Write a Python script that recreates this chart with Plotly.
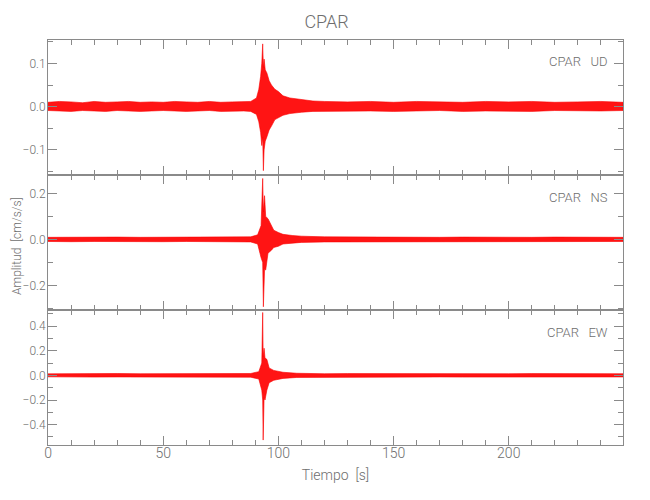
import plotly.graph_objects as go
from plotly.subplots import make_subplots

# ---- data (envelopes) ----
station = "CPAR"
components = ["UD", "NS", "EW"]

t_ud = [0, 5, 10, 15, 20, 25, 30, 35, 40, 45, 50, 55, 60, 65, 70, 75, 80, 85, 88, 90.5, 91.5, 92.3, 92.8, 93.2,
        93.5, 93.8, 94.3, 95, 96, 97, 98.5, 100, 102, 105, 110, 115, 120, 130, 140, 150, 160, 170, 180, 190, 200,
        210, 220, 230, 240, 249.6]
up_ud = [0.010, 0.012, 0.011, 0.009, 0.012, 0.010, 0.011, 0.012, 0.010, 0.011, 0.010, 0.012, 0.011, 0.010, 0.012,
         0.010, 0.011, 0.012, 0.012, 0.02, 0.04, 0.07, 0.1, 0.145, 0.09, 0.11, 0.085, 0.078, 0.06, 0.05, 0.04,
         0.035, 0.025, 0.02, 0.016, 0.013, 0.012, 0.011, 0.012, 0.010, 0.012, 0.011, 0.010, 0.012, 0.011, 0.012,
         0.010, 0.011, 0.012, 0.010]
lo_ud = [-0.009, -0.010, -0.011, -0.009, -0.010, -0.011, -0.009, -0.010, -0.011, -0.010, -0.009, -0.010, -0.011,
         -0.010, -0.009, -0.011, -0.010, -0.010, -0.011, -0.018, -0.035, -0.06, -0.09, -0.07, -0.148, -0.1, -0.08,
         -0.07, -0.054, -0.045, -0.03, -0.026, -0.02, -0.016, -0.013, -0.011, -0.011, -0.010, -0.010, -0.011,
         -0.010, -0.009, -0.011, -0.010, -0.010, -0.011, -0.009, -0.010, -0.010, -0.009]

t_ns = [0, 10, 20, 30, 40, 50, 60, 70, 80, 88, 91, 92.5, 93.2, 93.5, 94, 94.5, 95.5, 97, 98, 100, 102, 106, 110,
        120, 130, 140, 150, 160, 170, 180, 190, 200, 210, 220, 230, 240, 249.6]
up_ns = [0.009, 0.010, 0.009, 0.010, 0.009, 0.010, 0.009, 0.010, 0.010, 0.011, 0.02, 0.06, 0.265, 0.12, 0.19, 0.1,
         0.09, 0.06, 0.04, 0.03, 0.022, 0.017, 0.014, 0.011, 0.010, 0.010, 0.009, 0.010, 0.009, 0.010, 0.009, 0.010,
         0.009, 0.010, 0.009, 0.010, 0.009]
lo_ns = [-0.009, -0.010, -0.009, -0.010, -0.009, -0.010, -0.009, -0.010, -0.010, -0.011, -0.02, -0.08, -0.1,
         -0.293, -0.13, -0.133, -0.06, -0.047, -0.035, -0.03, -0.02, -0.016, -0.013, -0.011, -0.010, -0.009,
         -0.010, -0.009, -0.010, -0.009, -0.010, -0.009, -0.010, -0.009, -0.010, -0.009, -0.009]

t_ew = [0, 10, 20, 30, 40, 50, 60, 70, 80, 88, 91.5, 92.8, 93.2, 93.4, 93.8, 94.2, 95, 96, 98, 102, 108, 115, 120,
        130, 140, 150, 160, 170, 180, 190, 200, 210, 220, 230, 240, 249.6]
up_ew = [0.012, 0.014, 0.013, 0.015, 0.013, 0.014, 0.015, 0.016, 0.014, 0.015, 0.03, 0.1, 0.51, 0.15, 0.22, 0.14,
         0.13, 0.06, 0.04, 0.025, 0.017, 0.014, 0.013, 0.014, 0.013, 0.014, 0.013, 0.014, 0.013, 0.014, 0.013,
         0.014, 0.013, 0.014, 0.013, 0.013]
lo_ew = [-0.012, -0.013, -0.014, -0.013, -0.014, -0.013, -0.014, -0.015, -0.014, -0.015, -0.03, -0.12, -0.2,
         -0.525, -0.18, -0.2, -0.12, -0.06, -0.04, -0.025, -0.017, -0.014, -0.013, -0.013, -0.014, -0.013, -0.014,
         -0.013, -0.014, -0.013, -0.014, -0.013, -0.014, -0.013, -0.014, -0.013]

y_ranges = [[-0.158, 0.154], [-0.307, 0.28], [-0.565, 0.53]]
y_dticks = [0.1, 0.2, 0.2]
y_minor = [0.05, 0.1, 0.1]
x_ticks = [0, 50, 100, 150, 200]

traces = [(t_ud, up_ud, lo_ud), (t_ns, up_ns, lo_ns), (t_ew, up_ew, lo_ew)]

FONT = "Roboto, Liberation Sans Narrow, DejaVu Sans Condensed, sans-serif"
GRAY = "#8a8a8a"
TXT = "#6e6e6e"

fig = make_subplots(rows=3, cols=1, shared_xaxes=True, vertical_spacing=0)

for i, (t, up, lo) in enumerate(traces):
    fig.add_trace(go.Scatter(
        x=list(t) + list(t)[::-1],
        y=list(up) + list(lo)[::-1],
        fill="toself", fillcolor="rgba(255,0,0,0.92)",
        mode="lines", line=dict(color="rgb(250,0,0)", width=0.6),
        hoverinfo="skip", showlegend=False), row=i + 1, col=1)

for i in range(3):
    fig.update_yaxes(range=y_ranges[i], dtick=y_dticks[i], tick0=0, tickformat=".1f",
                     showgrid=False, zeroline=False, showline=True, linecolor=GRAY, linewidth=1,
                     mirror="ticks", ticks="inside", ticklen=9, tickcolor=GRAY, automargin=False,
                     minor=dict(ticks="inside", ticklen=5, dtick=y_minor[i], tick0=0, tickcolor=GRAY,
                                showgrid=False),
                     tickfont=dict(family=FONT, size=12, color=TXT, weight=300), ticklabelstandoff=-1,
                     row=i + 1, col=1)
    fig.update_xaxes(range=[0, 249.6], tickvals=x_ticks, showgrid=False, zeroline=False,
                     showline=True, linecolor=GRAY, linewidth=1, mirror="ticks", automargin=False,
                     ticks="inside", ticklen=9, tickcolor=GRAY,
                     minor=dict(ticks="inside", ticklen=5, dtick=10, tick0=0, tickcolor=GRAY, showgrid=False),
                     tickfont=dict(family=FONT, size=14, color=TXT, weight=300), ticklabelstandoff=-5,
                     showticklabels=(i == 2), row=i + 1, col=1)

fig.update_xaxes(title=dict(text="Tiempo  [s]", font=dict(family=FONT, size=14, color=TXT, weight=300),
                            standoff=10), row=3, col=1)

ann_y = [0.9457, 0.612, 0.279]
for i, comp in enumerate(components):
    fig.add_annotation(text=f"{station}   {comp}", xref="paper", yref="paper", x=0.978, y=ann_y[i],
                       xanchor="right", yanchor="middle", showarrow=False,
                       font=dict(family=FONT, size=13, color=TXT, weight=300))

fig.add_annotation(text="Amplitud  [cm/s/s]", xref="paper", yref="paper", x=-0.055, y=0.49,
                   textangle=-90, xanchor="center", yanchor="middle", showarrow=False,
                   font=dict(family=FONT, size=12, color=TXT, weight=300))

fig.update_layout(
    width=650, height=500,
    margin=dict(l=40, r=35, t=32, b=63),
    paper_bgcolor="white", plot_bgcolor="white",
    title=dict(text=station, x=0.49, xanchor="center", y=0.973, yanchor="middle",
               font=dict(family=FONT, size=18, color=TXT, weight=300)),
)

fig.write_html("out.html")
